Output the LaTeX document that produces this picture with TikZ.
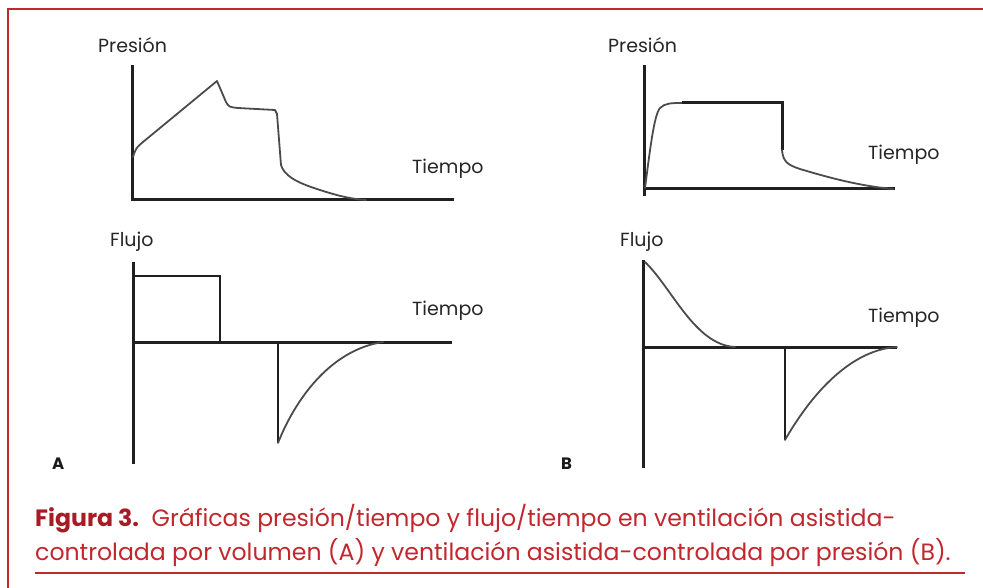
\documentclass[tikz,border=0pt]{standalone}
\usepackage{fontspec}
\setmainfont{Poppins}
\definecolor{capred}{RGB}{193,39,45}
\definecolor{figred}{RGB}{168,26,36}
\definecolor{axisgray}{RGB}{32,32,32}
\definecolor{wavegray}{RGB}{75,75,75}
\tikzstyle{ax}=[line width=3pt,draw=axisgray]
\tikzstyle{wave}=[line width=1.8pt,draw=wavegray,line join=round,line cap=round]
\tikzstyle{lbl}=[font=\fontsize{19}{22}\selectfont,text=black!85,anchor=base west,inner sep=0pt]
\tikzstyle{panel}=[font=\fontsize{16.5}{19}\selectfont\bfseries,text=black!90,anchor=base west,inner sep=0pt]
\tikzstyle{capline}=[font=\fontsize{23.6}{28}\selectfont,text=capred,anchor=base west,inner sep=0pt]

\begin{document}
\begin{tikzpicture}[x=1pt,y=-1pt]
			\useasboundingbox (0,0) rectangle (983,588);
			% marco
			\draw[capred,line width=1.6pt] (8,588) -- (8,9) -- (983,9);
			\draw[capred,line width=1.4pt] (35,573) -- (965,573);
			% A: presion/tiempo
			\node[lbl] (presA) at (98,53) {Presión};
			\node[lbl] (tiemA1) at (412,174) {Tiempo};
			\draw[ax] (132,65) -- (132,201);
			\draw[ax] (132,200) -- (454,200);
			\draw[wave] (133,157) .. controls (136,148) .. (143,142) -- (217,81) -- (226,102)
				.. controls (229,107) .. (238,108) -- (275,110) -- (277,114) -- (281,165)
				.. controls (284,175) and (295,182) .. (317,189)
				.. controls (335,195) and (350,199) .. (366,200);
			% A: flujo/tiempo
			\node[lbl] (flujA) at (110,247) {Flujo};
			\node[lbl] (tiemA2) at (412,316) {Tiempo};
			\draw[ax] (133,262) -- (133,464);
			\draw[ax] (133,342) -- (452,342);
			\draw[ax,line width=2.4pt] (133,276) -- (220,276) -- (220,342);
			\draw[ax,line width=2.6pt] (278,342) -- (278,443);
			\draw[wave] (278,443) .. controls (295,400) and (330,350) .. (383,342);
			\node[panel] (letA) at (52,469) {A};
			% B: presion/tiempo
			\node[lbl] (presB) at (608,53) {Presión};
			\node[lbl] (tiemB1) at (868,160) {Tiempo};
			\draw[ax] (644,65) -- (644,196);
			\draw[ax] (644,189) -- (895,189);
			\draw[wave] (645,188) .. controls (650,150) and (654,115) .. (660,108)
				.. controls (665,103) and (672,103) .. (682,103);
			\draw[ax] (682,103) -- (782,103) -- (782,150);
			\draw[wave] (782,150) .. controls (783,162) and (788,165) .. (800,169)
				.. controls (830,178) and (860,186) .. (893,189);
			% B: flujo/tiempo
			\node[lbl] (flujB) at (620,247) {Flujo};
			\node[lbl] (tiemB2) at (868,322) {Tiempo};
			\draw[ax] (643,260) -- (643,468);
			\draw[ax] (643,347) -- (897,347);
			\draw[wave] (645,262) .. controls (672,288) and (695,345) .. (735,347);
			\draw[ax,line width=2.6pt] (785,347) -- (785,440);
			\draw[wave] (785,440) .. controls (805,405) and (845,350) .. (897,347);
			\node[panel] (letB) at (561,469) {B};
			% pie de figura
			\node[capline] (capL1) at (35,526) {\textcolor{figred}{\bfseries Figura 3.}\ \ Gráficas presión/tiempo y flujo/tiempo en ventilación asistida-};
			\node[capline] (capL2) at (35,560) {controlada por volumen (A) y ventilación asistida-controlada por presión (B).};
		\end{tikzpicture}
\end{document}
